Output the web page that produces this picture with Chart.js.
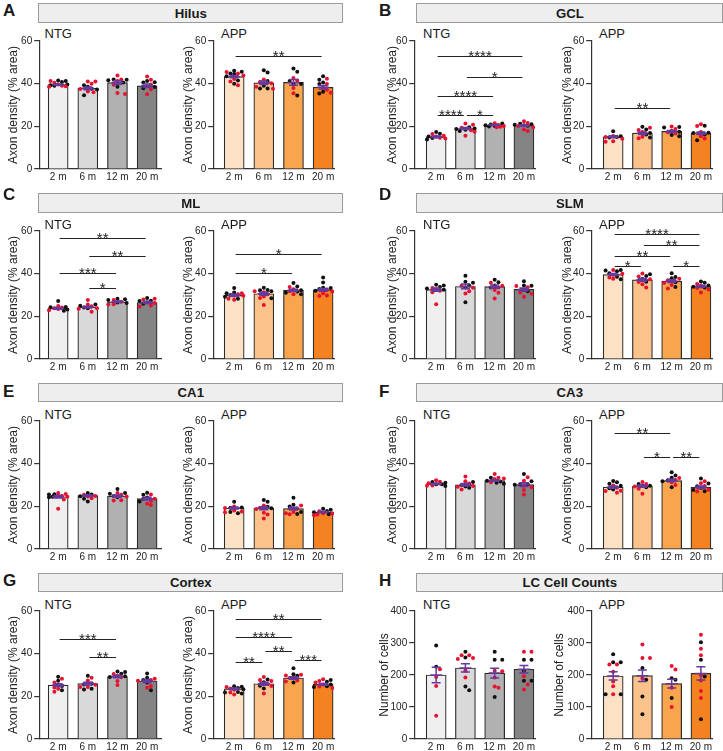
<!DOCTYPE html>
<html>
<head>
<meta charset="utf-8">
<script src="https://cdn.jsdelivr.net/npm/chart.js@4"></script>
<style>
  body { margin: 0; width: 723px; height: 751px; position: relative; overflow: hidden; background: #fff;
         font-family: "Liberation Sans", Arial, Helvetica, sans-serif; color: #1a1a1a; }
  .t { position: absolute; line-height: 1; white-space: nowrap; }
  .letter { font-weight: bold; font-size: 17px; }
  .grp { font-size: 13px; }
  .box { position: absolute; height: 19.5px; box-sizing: border-box; background: #eeeeee; border: 1px solid #9b9b9b;
         display: flex; align-items: center; justify-content: center; font-weight: bold; font-size: 13.2px; }
  canvas { position: absolute; pointer-events: none; }
</style>
</head>
<body>
<script>
const ages = ['2 m', '6 m', '12 m', '20 m'];
const axonTicks = [0, 20, 40, 60];
const cellTicks = [0, 100, 200, 300, 400];

// Hilus
const hilusNtgMean = [39.6, 37.8, 40.5, 39.0];
const hilusNtgSem = [0.3, 0.6, 0.9, 0.8];
const hilusNtgRed = [[41.2, 40.4, 38.8, 38.6, 39.6, 39.0], [41.0, 41.0, 40.0, 36.3, 36.0, 37.5], [43.8, 42.0, 41.3, 35.2, 35.6, 39.5], [43.4, 41.8, 39.6, 37.4, 35.0, 38.8]];
const hilusNtgBlack = [[41.5, 41.3, 39.3, 39.0, 39.6, 40.8], [38.5, 37.6, 34.6, 37.3, 39.2], [41.8, 41.6, 42.0, 40.5, 38.5], [41.2, 40.7, 40.5, 37.8, 38.4]];
const hilusAppMean = [43.3, 40.4, 40.6, 38.3];
const hilusAppSem = [0.5, 0.8, 1.3, 0.8];
const hilusAppRed = [[45.5, 44.8, 43.8, 42.2, 39.2, 41.0], [42.0, 40.8, 40.2, 38.5, 37.6], [42.7, 41.5, 38.0, 35.5], [42.3, 39.8, 38.1, 37.2, 35.7]];
const hilusAppBlack = [[46.0, 45.6, 44.5, 43.5, 41.5, 44.8, 40.0], [46.3, 45.2, 41.3, 39.0, 37.7, 37.7], [47.1, 45.6, 41.3, 40.0, 39.8, 34.5], [43.5, 40.5, 39.8, 41.8, 35.4, 36.2]];
const hilusNtgSig = [];
const hilusAppSig = [[0, 3, '**', 52.8]];

// GCL
const gclNtgMean = [15.1, 19.0, 20.6, 20.4];
const gclNtgSem = [0.4, 0.5, 0.25, 0.4];
const gclNtgRed = [[15.6, 15.2, 14.6, 14.3, 16.4], [21.3, 20.8, 19.3, 18.2, 15.6, 17.5], [21.5, 20.6, 19.8, 19.6, 20.2], [22.4, 21.6, 18.5, 17.8, 19.6, 20.1]];
const gclNtgBlack = [[17.3, 16.5, 15.2, 13.8, 14.5], [19.6, 19.0, 18.4, 18.8, 17.8], [21.3, 20.9, 20.5, 20.2, 19.9], [21.2, 20.7, 20.3, 20.5, 21.0]];
const gclAppMean = [15.1, 16.8, 17.6, 16.8];
const gclAppSem = [0.5, 0.6, 0.5, 0.6];
const gclAppRed = [[15.5, 14.2, 12.8, 13.0, 15.0], [19.3, 18.3, 17.3, 15.1, 14.4], [19.9, 18.8, 17.9, 16.6, 17.2], [21.0, 20.2, 17.4, 14.3, 15.3]];
const gclAppBlack = [[17.7, 15.3, 15.0, 14.8], [19.8, 18.5, 16.9, 14.8, 16.2], [19.7, 19.5, 17.5, 15.4, 15.9], [20.3, 17.0, 16.9, 16.2, 13.5]];
const gclNtgSig = [[0, 3, '****', 52.8], [1, 3, '*', 43.3], [0, 2, '****', 34.3], [0, 1, '****', 25.2], [1, 2, '*', 25.2]];
const gclAppSig = [[0, 2, '**', 28.8]];

// ML
const mlNtgMean = [23.7, 24.3, 26.8, 26.5];
const mlNtgSem = [0.4, 0.45, 0.35, 0.45];
const mlNtgRed = [[24.8, 23.8, 22.9, 23.4, 24.1], [27.6, 24.7, 23.5, 22.2, 23.8, 25.5], [27.7, 25.5, 26.8, 25.7], [28.3, 27.9, 25.1, 24.6, 26.3]];
const mlNtgBlack = [[27.2, 24.3, 23.2, 22.6, 24.4], [25.5, 25.0, 23.8, 24.1], [28.3, 28.0, 27.6, 26.5, 26.3], [28.6, 27.3, 27.2, 25.9, 26.6]];
const mlAppMean = [29.8, 30.6, 32.2, 32.4];
const mlAppSem = [0.5, 0.7, 0.55, 0.7];
const mlAppRed = [[30.8, 29.6, 28.2, 27.8, 29.8, 30.4], [31.7, 31.3, 29.3, 28.6, 25.3, 30.3], [33.8, 32.7, 31.7, 30.3], [32.6, 31.6, 29.5, 30.8, 29.8]];
const mlAppBlack = [[33.3, 31.2, 30.8, 29.2, 28.3, 30.0], [33.4, 32.4, 31.8, 32.2, 28.5], [35.6, 34.0, 32.2, 31.6, 30.3, 31.0], [38.2, 35.9, 33.3, 32.8, 33.4, 32.0]];
const mlNtgSig = [[0, 3, '**', 56.5], [1, 3, '**', 48.3], [0, 2, '***', 40.4], [1, 2, '*', 33.3]];
const mlAppSig = [[0, 3, '*', 49.1], [0, 2, '*', 40.4]];

// SLM
const slmNtgMean = [32.5, 34.0, 33.9, 32.6];
const slmNtgSem = [0.8, 1.1, 0.75, 0.7];
const slmNtgRed = [[33.3, 32.6, 32.0, 31.3, 25.7], [34.3, 33.4, 31.8, 30.7], [35.8, 34.3, 32.4, 31.0, 28.4, 33.5], [34.2, 33.6, 31.2, 30.6, 29.2]];
const slmNtgBlack = [[34.8, 34.5, 33.8, 33.0, 32.5], [39.0, 36.2, 35.8, 34.5, 33.5, 26.6], [37.1, 36.0, 33.5, 34.5], [36.5, 34.3, 34.5, 31.7, 32.3]];
const slmAppMean = [39.6, 37.1, 36.5, 34.0];
const slmAppSem = [0.45, 0.6, 0.65, 0.45];
const slmAppRed = [[41.7, 40.0, 39.5, 38.2, 37.6], [40.1, 38.7, 37.4, 36.1, 35.0, 33.5], [37.6, 35.6, 34.7, 36.9, 33.0], [35.2, 34.4, 33.3, 31.2, 32.6]];
const slmAppBlack = [[41.7, 41.5, 41.1, 40.2, 38.5, 37.4], [39.7, 38.9, 37.5, 36.2], [40.2, 38.4, 37.8, 36.0, 33.8], [36.3, 35.7, 34.5, 33.9, 33.5]];
const slmNtgSig = [];
const slmAppSig = [[0, 3, '****', 58.6], [1, 3, '**', 53.4], [0, 2, '**', 48.3], [0, 1, '*', 43.6], [2, 3, '*', 43.6]];

// CA1
const ca1NtgMean = [24.5, 25.0, 24.8, 23.6];
const ca1NtgSem = [0.6, 0.4, 0.5, 0.6];
const ca1NtgRed = [[26.3, 25.8, 24.5, 23.2, 18.9, 25.0], [25.4, 24.9, 24.6, 23.8], [26.2, 25.4, 24.6, 22.8, 22.7], [25.5, 23.6, 22.5, 21.2, 20.6]];
const ca1NtgBlack = [[25.7, 25.6, 24.8, 24.2, 24.5], [26.3, 25.5, 24.7, 23.5, 22.3], [28.1, 26.2, 25.9, 24.3, 24.9], [26.4, 25.4, 24.1, 23.5, 22.3]];
const ca1AppMean = [19.2, 19.1, 18.9, 17.3];
const ca1AppSem = [0.45, 0.7, 0.65, 0.35];
const ca1AppRed = [[19.9, 19.2, 18.0, 17.2, 17.6], [19.3, 18.7, 17.0, 16.2, 14.3, 20.4], [20.4, 19.0, 17.3, 16.3, 16.8], [17.7, 16.8, 16.6, 15.8, 16.2]];
const ca1AppBlack = [[22.1, 19.5, 19.3, 17.4, 16.7], [23.0, 22.1, 19.8, 19.1], [24.0, 20.8, 19.9, 17.3, 16.4], [18.9, 18.4, 17.8, 17.2, 16.3]];
const ca1NtgSig = [];
const ca1AppSig = [];

// CA3
const ca3NtgMean = [30.5, 30.1, 32.1, 30.2];
const ca3NtgSem = [0.3, 0.55, 0.4, 0.85];
const ca3NtgRed = [[32.2, 31.5, 30.8, 29.8, 29.7], [34.0, 31.8, 30.7, 29.5, 29.2, 27.9], [35.1, 33.4, 33.0, 32.8, 31.3], [33.6, 32.0, 29.6, 27.7, 25.6, 28.9]];
const ca3NtgBlack = [[31.4, 31.0, 30.3, 29.5, 30.4], [31.4, 30.0, 29.3, 28.7], [33.4, 32.0, 31.6, 31.0, 30.6], [35.2, 31.7, 30.4, 30.1, 30.3]];
const ca3AppMean = [29.0, 29.5, 32.1, 28.9];
const ca3AppSem = [0.5, 0.5, 0.6, 0.6];
const ca3AppRed = [[29.8, 28.7, 27.2, 26.4, 27.3], [31.4, 30.5, 29.3, 28.2, 25.9], [33.3, 32.4, 31.3, 30.0], [31.8, 30.8, 29.5, 27.8, 26.9]];
const ca3AppBlack = [[31.9, 31.3, 30.6, 29.6, 28.5, 27.9], [30.5, 29.6, 29.5, 29.0], [36.0, 34.4, 33.4, 32.2, 29.0, 31.8], [33.1, 30.7, 29.4, 28.7, 27.7, 27.1]];
const ca3NtgSig = [];
const ca3AppSig = [[0, 2, '**', 54.5], [1, 2, '*', 43.0], [2, 3, '**', 43.0]];

// Cortex
const ctxNtgMean = [25.3, 26.0, 29.3, 27.2];
const ctxNtgSem = [0.65, 0.65, 0.6, 0.7];
const ctxNtgRed = [[28.2, 26.5, 24.1, 22.1, 23.5], [28.7, 27.4, 25.4, 24.4, 24.4], [30.5, 29.6, 27.2, 25.3, 29.0], [28.2, 27.3, 24.8, 24.0, 27.6]];
const ctxNtgBlack = [[29.2, 27.3, 25.4, 24.8, 22.8], [29.7, 26.0, 25.5, 23.2, 23.6], [31.6, 31.4, 30.6, 29.4, 29.1], [30.7, 28.7, 27.6, 26.5, 22.8]];
const ctxAppMean = [23.5, 25.9, 28.6, 25.6];
const ctxAppSem = [0.4, 0.65, 0.55, 0.45];
const ctxAppRed = [[24.4, 23.7, 23.1, 21.8, 20.9], [29.1, 27.7, 25.8, 24.8, 21.3, 27.2], [30.1, 29.8, 28.6, 27.4, 27.0], [28.0, 27.2, 26.5, 25.6, 24.6, 23.9]];
const ctxAppBlack = [[24.7, 24.5, 23.3, 22.0, 21.3, 21.8, 23.9], [27.9, 26.6, 25.0, 23.7], [33.2, 30.3, 29.6, 28.5, 26.5], [27.7, 26.8, 25.6, 24.4, 24.7]];
const ctxNtgSig = [[0, 2, '***', 47.1], [1, 2, '**', 38.3]];
const ctxAppSig = [[0, 3, '**', 56.2], [0, 2, '****', 48.0], [1, 2, '**', 41.4], [0, 1, '**', 35.9], [2, 3, '***', 37.2]];

// LC cell counts
const lcNtgMean = [200, 222, 206, 218];
const lcNtgSem = [24, 13, 15, 12];
const lcNtgRed = [[218, 194, 166, 73], [262, 262, 253, 250, 213, 192], [213, 212, 192, 164, 160], [273, 273, 196, 170, 155]];
const lcNtgBlack = [[292, 226], [273, 255, 164, 152], [273, 248, 248, 131], [248, 248, 213, 182, 182]];
const lcAppMean = [197, 198, 173, 205];
const lcAppSem = [13, 18, 14, 21];
const lcAppRed = [[233, 233, 210, 180, 165, 140], [295, 253, 253, 190], [228, 217, 160, 100], [326, 282, 262, 200, 183, 150, 128]];
const lcAppBlack = [[265, 240, 240, 140, 140], [222, 185, 133, 77], [190, 185, 128], [302, 248, 195, 62]];
const lcNtgSig = [];
const lcAppSig = [];

// ---- layout / style ----
Chart.defaults.font.family = '"Liberation Sans", Arial, Helvetica, sans-serif';
Chart.defaults.color = '#222';

const ntgColors = ['#efefef', '#d9d9d9', '#b1b1b1', '#848484'];
const appColors = ['#fde1c5', '#fbc38b', '#f9a54e', '#f48220'];
const axonLabel = 'Axon density (% area)';

const rowTop = [40.5, 230.7, 421, 610.7];
const plotH = 127.5;
const padTop = 16, xH = 20, padRight = 14;
const boxTop = [3.3, 193.3, 382.5, 572.5];
const letterBase = [16.8, 200, 397, 586.7];
// td = distance from the y axis line to the middle of the rotated axis title
const cols = [
  { letterX: 3, boxX: 38.3, boxW: 305,
    ntg: { x0: 39, x1: 161, c0: 58, sp: 29.7, lx: 44.5, td: 26 },
    app: { x0: 213, x1: 334, c0: 234, sp: 29.7, lx: 221, td: 25 } },
  { letterX: 379, boxX: 416.3, boxW: 307,
    ntg: { x0: 414, x1: 535, c0: 436, sp: 29.3, lx: 423, td: 22 },
    app: { x0: 591, x1: 712, c0: 613, sp: 29.3, lx: 599, td: 24 } }
];

const panels = [
  { letter: 'A', title: 'Hilus', row: 0, col: 0, yLabel: axonLabel, ticks: axonTicks,
    ntg: [hilusNtgMean, hilusNtgSem, hilusNtgRed, hilusNtgBlack, hilusNtgSig],
    app: [hilusAppMean, hilusAppSem, hilusAppRed, hilusAppBlack, hilusAppSig] },
  { letter: 'B', title: 'GCL', row: 0, col: 1, yLabel: axonLabel, ticks: axonTicks,
    ntg: [gclNtgMean, gclNtgSem, gclNtgRed, gclNtgBlack, gclNtgSig],
    app: [gclAppMean, gclAppSem, gclAppRed, gclAppBlack, gclAppSig] },
  { letter: 'C', title: 'ML', row: 1, col: 0, yLabel: axonLabel, ticks: axonTicks,
    ntg: [mlNtgMean, mlNtgSem, mlNtgRed, mlNtgBlack, mlNtgSig],
    app: [mlAppMean, mlAppSem, mlAppRed, mlAppBlack, mlAppSig] },
  { letter: 'D', title: 'SLM', row: 1, col: 1, yLabel: axonLabel, ticks: axonTicks,
    ntg: [slmNtgMean, slmNtgSem, slmNtgRed, slmNtgBlack, slmNtgSig],
    app: [slmAppMean, slmAppSem, slmAppRed, slmAppBlack, slmAppSig] },
  { letter: 'E', title: 'CA1', row: 2, col: 0, yLabel: axonLabel, ticks: axonTicks,
    ntg: [ca1NtgMean, ca1NtgSem, ca1NtgRed, ca1NtgBlack, ca1NtgSig],
    app: [ca1AppMean, ca1AppSem, ca1AppRed, ca1AppBlack, ca1AppSig] },
  { letter: 'F', title: 'CA3', row: 2, col: 1, yLabel: axonLabel, ticks: axonTicks,
    ntg: [ca3NtgMean, ca3NtgSem, ca3NtgRed, ca3NtgBlack, ca3NtgSig],
    app: [ca3AppMean, ca3AppSem, ca3AppRed, ca3AppBlack, ca3AppSig] },
  { letter: 'G', title: 'Cortex', row: 3, col: 0, yLabel: axonLabel, ticks: axonTicks,
    ntg: [ctxNtgMean, ctxNtgSem, ctxNtgRed, ctxNtgBlack, ctxNtgSig],
    app: [ctxAppMean, ctxAppSem, ctxAppRed, ctxAppBlack, ctxAppSig] },
  { letter: 'H', title: 'LC Cell Counts', row: 3, col: 1, yLabel: 'Number of cells', ticks: cellTicks,
    ntg: [lcNtgMean, lcNtgSem, lcNtgRed, lcNtgBlack, lcNtgSig],
    app: [lcAppMean, lcAppSem, lcAppRed, lcAppBlack, lcAppSig] }
];

function addText(str, cls, x, baseline, fs) {
  const d = document.createElement('div');
  d.className = 't ' + cls;
  d.textContent = str;
  d.style.left = x + 'px';
  d.style.top = (baseline - 0.8465 * fs) + 'px';
  document.body.appendChild(d);
}

// spread the dots of one bar sideways so they don't sit on top of each other
function swarm(red, black, pxPerUnit) {
  const items = red.map(v => ({ v, c: 'r' })).concat(black.map(v => ({ v, c: 'b' })));
  const slots = [0, 3.8, -3.8, 7.6, -7.6, 1.9, -1.9, 5.7, -5.7, 9.2, -9.2];
  const placed = [];
  items.slice().sort((a, b) => b.v - a.v).forEach(it => {
    const py = it.v * pxPerUnit;
    let best = 0, bestD = -1;
    for (const s of slots) {
      let d = Infinity;
      placed.forEach(p => { d = Math.min(d, Math.hypot(p.dx - s, p.py - py)); });
      if (d >= 4) { best = s; break; }
      if (d > bestD) { bestD = d; best = s; }
    }
    it.dx = best; it.py = py;
    placed.push(it);
  });
  return items;
}

function makeCanvas(w, h) {
  const cv = document.createElement('canvas');
  cv.width = w; cv.height = h;
  cv.style.width = w + 'px'; cv.style.height = h + 'px';
  document.body.appendChild(cv);
  return cv;
}

function drawChart(g, yTop, yLabel, ticks, set, colors) {
  const [mean, sem, red, black, sig] = set;
  const ymax = ticks[ticks.length - 1];
  const W = g.x1 - g.x0;
  const yW = g.td + (ymax > 100 ? 8 : 0) + 7.2;
  const redPts = [], blackPts = [];
  mean.forEach((m, i) => {
    swarm(red[i], black[i], plotH / ymax).forEach(d => {
      (d.c === 'r' ? redPts : blackPts).push({ x: i + d.dx / g.sp, y: d.v });
    });
  });

  const overlay = {
    id: 'overlay',
    afterDatasetsDraw(chart) {
      const { ctx, scales: { x, y } } = chart;
      ctx.save();
      ctx.strokeStyle = '#66399a';
      ctx.lineWidth = 1.5;
      mean.forEach((m, i) => {
        const cx = x.getPixelForValue(i);
        const yt = y.getPixelForValue(m + sem[i]), yb = y.getPixelForValue(m - sem[i]), ym = y.getPixelForValue(m);
        ctx.beginPath();
        ctx.moveTo(cx, yt); ctx.lineTo(cx, yb);
        ctx.moveTo(cx - 4.5, yt); ctx.lineTo(cx + 4.5, yt);
        ctx.moveTo(cx - 4.5, yb); ctx.lineTo(cx + 4.5, yb);
        ctx.moveTo(cx - 6, ym); ctx.lineTo(cx + 6, ym);
        ctx.stroke();
      });
      ctx.strokeStyle = '#222';
      ctx.fillStyle = '#222';
      ctx.lineWidth = 1;
      ctx.font = '15px "Liberation Sans", Arial, sans-serif';
      ctx.textAlign = 'center';
      ctx.textBaseline = 'alphabetic';
      sig.forEach(([a, b, stars, lv]) => {
        const xa = x.getPixelForValue(a) + 1.5, xb = x.getPixelForValue(b) - 1.5;
        const yy = Math.round(y.getPixelForValue(lv)) + 0.5;
        ctx.beginPath(); ctx.moveTo(xa, yy); ctx.lineTo(xb, yy); ctx.stroke();
        ctx.fillText(stars, (xa + xb) / 2, yy + 4);
      });
      ctx.restore();
    }
  };

  const config = {
    type: 'bar',
    data: {
      datasets: [
        { type: 'scatter', data: redPts, pointRadius: 2, pointBackgroundColor: '#e8122f', pointBorderWidth: 0, order: 1 },
        { type: 'scatter', data: blackPts, pointRadius: 2, pointBackgroundColor: '#111', pointBorderWidth: 0, order: 2 },
        { type: 'bar', data: mean.map((m, i) => ({ x: i, y: m })), backgroundColor: colors,
          borderColor: '#2b2b2b', borderWidth: 1.2, barThickness: 20, order: 3 }
      ]
    },
    options: {
      responsive: false,
      maintainAspectRatio: false,
      animation: false,
      events: [],
      layout: { padding: { top: padTop, right: padRight, bottom: 0, left: 0 } },
      plugins: { legend: { display: false }, tooltip: { enabled: false } },
      scales: {
        x: {
          type: 'linear',
          offset: false,
          min: (g.x0 - g.c0) / g.sp,
          max: (g.x1 - g.c0) / g.sp,
          afterBuildTicks: s => { s.ticks = ages.map((a, i) => ({ value: i })); },
          afterFit: s => { s.height = xH; },
          ticks: { callback: (v, i) => ages[i], font: { size: 10 }, color: '#222', padding: 2,
                   autoSkip: false, maxRotation: 0, minRotation: 0 },
          grid: { display: false, drawTicks: false, offset: false },
          border: { display: true, color: '#333', width: 1.2 }
        },
        y: {
          min: 0,
          max: ymax,
          afterBuildTicks: s => { s.ticks = ticks.map(v => ({ value: v })); },
          afterFit: s => { s.width = yW; },
          ticks: { font: { size: 10 }, color: '#222', padding: 2 },
          grid: { display: true, drawOnChartArea: false, drawTicks: true, tickLength: 5, color: '#333', lineWidth: 1.2 },
          border: { display: true, color: '#333', width: 1.2 },
          title: { display: true, text: yLabel, font: { size: 12 }, color: '#222', padding: { top: 0, bottom: 0 } }
        }
      }
    },
    plugins: [overlay]
  };

  // first pass: measure how much room the axes take, then build at the right size
  let w = yW + W + padRight, h = padTop + plotH + xH;
  let cv = makeCanvas(w, h);
  let chart = new Chart(cv, config);
  let ca = chart.chartArea;
  w += W - (ca.right - ca.left);
  h += plotH - (ca.bottom - ca.top);
  chart.destroy();
  cv.remove();

  cv = makeCanvas(Math.round(w), Math.round(h));
  chart = new Chart(cv, config);
  ca = chart.chartArea;
  cv.style.left = (g.x0 - ca.left) + 'px';
  cv.style.top = (yTop - ca.top) + 'px';
}

panels.forEach(p => {
  const c = cols[p.col];
  const yTop = rowTop[p.row];
  addText(p.letter, 'letter', c.letterX, letterBase[p.row], 17);
  const box = document.createElement('div');
  box.className = 'box';
  box.textContent = p.title;
  box.style.left = c.boxX + 'px';
  box.style.top = boxTop[p.row] + 'px';
  box.style.width = c.boxW + 'px';
  document.body.appendChild(box);
  addText('NTG', 'grp', c.ntg.lx, yTop - 2, 13);
  addText('APP', 'grp', c.app.lx, yTop - 2, 13);
  drawChart(c.ntg, yTop, p.yLabel, p.ticks, p.ntg, ntgColors);
  drawChart(c.app, yTop, p.yLabel, p.ticks, p.app, appColors);
});
</script>
</body>
</html>
